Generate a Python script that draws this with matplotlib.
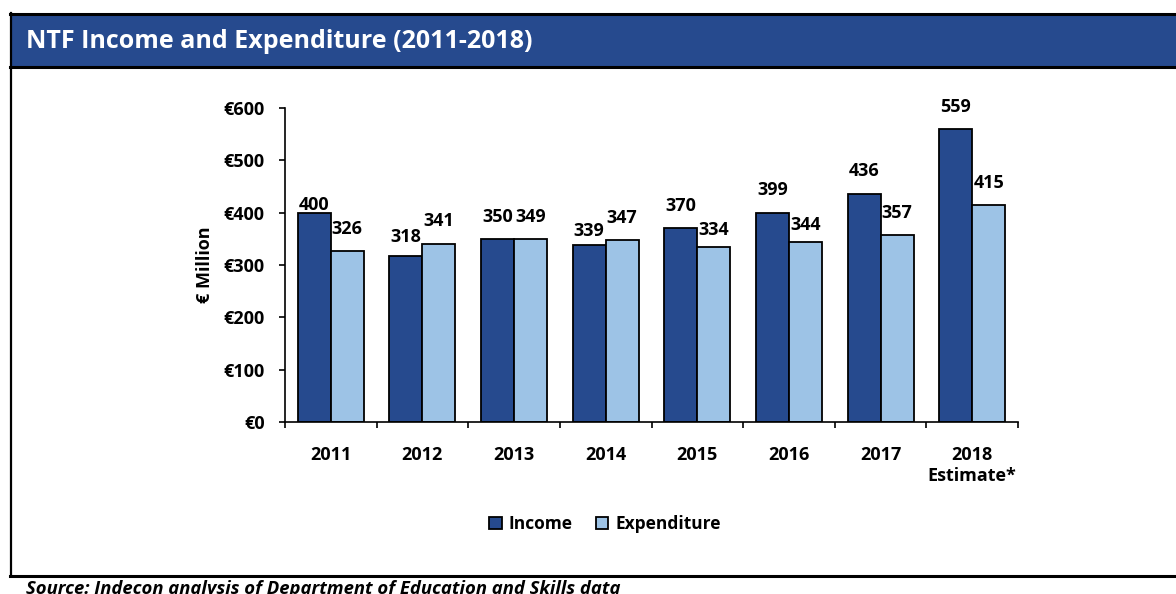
import matplotlib.pyplot as plt
import matplotlib.patches as patches
import matplotlib.lines as mlines
import numpy as np

# NTF income and expenditure, € million
years = ["2011", "2012", "2013", "2014", "2015", "2016", "2017", "2018\nEstimate*"]
income = [400, 318, 350, 339, 370, 399, 436, 559]
expenditure = [326, 341, 349, 347, 334, 344, 357, 415]
yticks = [0, 100, 200, 300, 400, 500, 600]

# how far each value label sits above its bar (pixels)
income_lift = [8, 19, 22, 14, 22, 23, 23, 22]
expend_lift = [22, 23, 22, 22, 17, 17, 22, 22]

dark = "#264A8E"
light = "#9DC3E6"
plt.rcParams['font.family'] = ['Open Sans', 'DejaVu Sans']
plt.rcParams['font.weight'] = 'bold'

W, H = 1176, 594
fig = plt.figure(figsize=(W / 100, H / 100), dpi=100)

def fx(px):
    return px / W

def fy(py):
    return 1 - py / H

# frame and title strip
fig.patches.append(patches.Rectangle((fx(11), fy(66)), 1, fy(14) - fy(66),
                                     transform=fig.transFigure, facecolor=dark,
                                     edgecolor='none'))
for y in [13.5, 66.5, 576]:
    fig.add_artist(mlines.Line2D([fx(10), 1.0], [fy(y), fy(y)], color='black',
                                 lw=2.2, transform=fig.transFigure))
fig.add_artist(mlines.Line2D([fx(11), fx(11)], [fy(13), fy(576)], color='black',
                             lw=1.6, transform=fig.transFigure))
fig.text(fx(26), fy(41), "NTF Income and Expenditure (2011-2018)", color='white',
         fontsize=18, fontweight='bold', va='center', ha='left')
fig.text(fx(26), fy(594), "Source: Indecon analysis of Department of Education and Skills data",
         fontsize=13.3, fontweight='bold', style='italic', va='baseline', ha='left')

ax = fig.add_axes([fx(285), fy(422), fx(1018) - fx(285), fy(108) - fy(422)])
x = np.arange(len(years))
w = 0.36
b1 = ax.bar(x - w / 2, income, w, color=dark, edgecolor='black', lw=1.3, label='Income')
b2 = ax.bar(x + w / 2, expenditure, w, color=light, edgecolor='black', lw=1.3, label='Expenditure')

for bars, vals, lifts in [(b1, income, income_lift), (b2, expenditure, expend_lift)]:
    for bar, v, d in zip(bars, vals, lifts):
        ax.annotate(f"{v}", (bar.get_x() + bar.get_width() / 2, v),
                    xytext=(0, d * 0.72), textcoords='offset points',
                    ha='center', va='center', fontsize=13, fontweight='bold')

ax.set_xlim(-0.5, len(years) - 0.5)
ax.set_ylim(0, 600)
ax.set_yticks(yticks)
ax.set_yticklabels([f"€{t}" for t in yticks], fontsize=13, fontweight='bold')
ax.set_xticks(x)
ax.set_xticklabels(years, fontsize=13, fontweight='bold', linespacing=1.25)
ax.set_xticks(np.arange(-0.5, len(years)), minor=True)
ax.tick_params(axis='x', which='major', length=0, pad=17)
ax.tick_params(axis='x', which='minor', length=4, width=1.2, direction='out')
ax.tick_params(axis='y', length=4, width=1.2, direction='out', pad=10.5)
ax.set_ylabel("€ Million", fontsize=13, fontweight='bold')
ax.yaxis.set_label_coords((214 - 285) / 733, 0.5)
for s in ['top', 'right']:
    ax.spines[s].set_visible(False)
for s in ['left', 'bottom']:
    ax.spines[s].set_linewidth(1.2)

leg = fig.legend(handles=[b1, b2], loc='center', bbox_to_anchor=(fx(605), fy(524)),
                 ncol=2, frameon=False, fontsize=12.5, handlelength=0.72, handleheight=0.72,
                 handletextpad=0.42, columnspacing=1.3)

fig.savefig("out.png", dpi=100)
